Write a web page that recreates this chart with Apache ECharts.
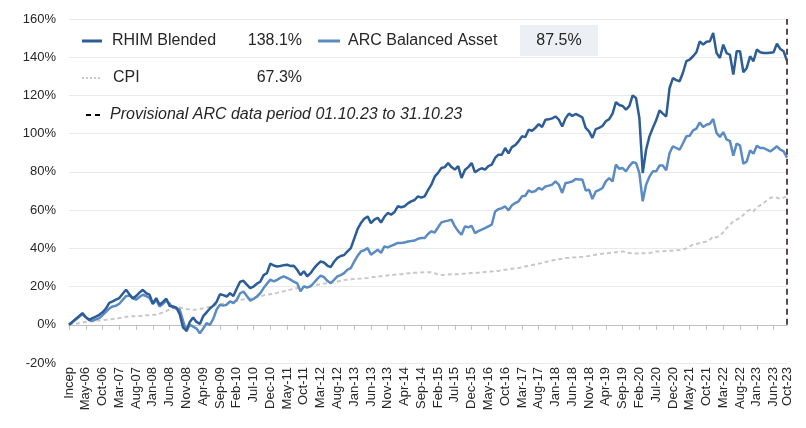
<!DOCTYPE html>
<html>
<head>
<meta charset="utf-8">
<script src="https://cdn.jsdelivr.net/npm/echarts/dist/echarts.min.js"></script>
<style>
    html, body { margin: 0; padding: 0; background: #fff; }
    #chart { width: 806px; height: 428px; }
</style>
</head>
<body>
<div id="chart"></div>
<script>
// 月份标签：Incep = Dec-05，逐月到 Oct-23
var monthNames = ['Jan', 'Feb', 'Mar', 'Apr', 'May', 'Jun', 'Jul', 'Aug', 'Sep', 'Oct', 'Nov', 'Dec'];
var categories = ['Incep'];
for (var y = 2006; y <= 2023; y++) {
    for (var m = 0; m < 12; m++) {
        if (y === 2023 && m > 9) break;
        categories.push(monthNames[m] + '-' + String(y).slice(2));
    }
}

var yTicks = [-20, 0, 20, 40, 60, 80, 100, 120, 140, 160];

// RHIM Blended (%)
var rhim = [
    0, 1.5, 3.0, 4.5, 6.1, 4.0, 2.6, 3.5, 4.3, 5.2,
    6.5, 8.5, 11.5, 12.3, 13.2, 14.0, 16.2, 18.3, 16.0, 13.8,
    15.0, 16.8, 18.3, 16.5, 15.8, 11.0, 14.0, 10.5, 12.0, 13.6,
    9.8, 9.6, 9.0, 5.5, -1.5, -3.0, 1.5, 3.8, 1.5, 0.4,
    4.5, 6.5, 8.5, 10.0, 12.0, 16.0, 15.5, 14.8, 16.5, 15.0,
    19.0, 22.5, 23.0, 21.0, 19.2, 20.0, 21.5, 22.5, 26.0, 27.0,
    32.0, 31.0, 30.5, 30.8, 31.2, 31.4, 30.8, 30.9, 28.8, 26.0,
    28.0, 25.4, 27.0, 29.5, 31.5, 33.1, 32.6, 31.0, 30.2, 33.0,
    35.0, 36.0, 36.5, 38.4, 40.1, 45.0, 50.0, 53.2, 55.5, 56.7,
    53.2, 55.0, 56.0, 53.5, 56.5, 58.5, 57.6, 59.0, 62.0, 61.5,
    62.0, 63.5, 64.6, 65.3, 67.2, 66.5, 67.2, 70.5, 73.3, 77.5,
    79.5, 82.0, 82.5, 84.7, 82.5, 81.2, 83.0, 76.8, 81.0, 82.5,
    84.7, 79.8, 81.0, 81.9, 81.2, 83.0, 83.8, 87.3, 89.0, 89.0,
    92.5, 89.7, 93.0, 94.0, 96.0, 98.6, 98.2, 102.1, 101.5, 103.0,
    105.0, 103.5, 107.3, 107.5, 108.0, 109.0, 107.3, 103.8, 108.0, 110.5,
    109.3, 110.3, 109.5, 108.5, 103.0, 101.2, 97.8, 102.4, 103.0, 104.0,
    106.5, 107.6, 110.5, 116.5, 115.0, 114.5, 112.6, 114.4, 120.0, 118.7,
    108.2, 79.4, 91.6, 98.6, 103.0, 107.0, 112.2, 110.5, 109.0, 123.9,
    129.1, 128.0, 127.4, 132.0, 137.9, 138.8, 140.5, 142.6, 148.3, 146.6,
    148.1, 148.3, 152.7, 142.2, 139.6, 146.6, 142.2, 141.3, 130.9, 143.1,
    143.1, 132.1, 134.4, 140.5, 137.9, 144.0, 142.6, 142.2, 142.2, 142.4,
    142.6, 147.1, 144.3, 143.1, 138.1
];

// ARC Balanced Asset (%)
var arc = [
    0, 1.3, 2.8, 4.2, 5.5, 4.0, 2.5, 2.0, 2.8, 3.5,
    5.0, 6.8, 8.5, 9.6, 10.0, 11.0, 13.0, 15.0, 15.3, 14.0,
    13.1, 14.5, 15.7, 15.0, 14.0, 11.0, 13.0, 9.6, 11.0, 12.6,
    11.0, 9.0, 8.5, 8.0, 2.0, -3.5, 0.0, -1.0, -2.0, -4.4,
    -2.0, 0.9, 0.0, 3.1, 8.0, 10.5, 10.0, 10.5, 12.2, 11.4,
    13.0, 16.5, 17.4, 15.0, 12.7, 13.5, 14.8, 16.5, 19.2, 21.5,
    23.6, 22.7, 23.5, 24.5, 25.3, 24.5, 23.6, 22.5, 21.8, 17.5,
    20.1, 19.5, 20.1, 22.0, 24.0, 25.7, 24.9, 23.0, 21.8, 23.5,
    25.3, 26.0, 27.0, 28.8, 29.7, 33.0, 36.0, 38.4, 39.0, 40.1,
    36.7, 38.0, 39.3, 37.6, 41.0, 40.5, 41.3, 42.0, 42.8, 42.8,
    43.0, 43.6, 43.8, 44.1, 45.0, 45.4, 45.4, 47.5, 48.9, 48.3,
    51.0, 53.6, 54.1, 54.5, 55.0, 51.5, 49.0, 47.1, 51.5, 51.0,
    51.8, 48.0, 49.0, 49.8, 50.6, 51.5, 52.4, 59.3, 60.5, 61.0,
    61.9, 59.9, 62.5, 63.7, 64.6, 67.2, 67.5, 70.3, 69.4, 70.0,
    71.6, 70.7, 72.4, 72.8, 73.3, 75.0, 73.3, 69.0, 74.2, 74.5,
    75.0, 76.3, 76.0, 76.0, 70.3, 70.7, 65.8, 69.8, 70.5, 71.6,
    75.0, 76.8, 75.0, 83.8, 81.6, 82.0, 80.3, 83.0, 85.0, 84.7,
    79.4, 64.6, 73.3, 77.5, 80.3, 80.3, 83.3, 83.3, 80.8, 89.9,
    93.4, 92.5, 91.6, 95.0, 98.6, 98.9, 101.7, 102.6, 105.9, 103.5,
    104.7, 105.2, 107.7, 100.4, 98.3, 100.8, 97.0, 96.1, 88.5, 94.8,
    93.8, 84.3, 85.5, 91.3, 89.5, 93.7, 92.5, 92.5, 91.6, 90.7,
    92.0, 93.4, 91.6, 90.7, 87.5
];

// CPI (%)
var cpi = [
    0, 0.2, 0.5, 0.8, 1.2, 1.5, 1.7, 1.8, 2.0, 2.3,
    2.5, 2.6, 2.8, 3.0, 3.2, 3.5, 3.8, 4.2, 4.4, 4.5,
    4.5, 4.6, 4.8, 5.0, 5.0, 5.2, 5.3, 5.8, 6.5, 7.2,
    8.0, 8.7, 9.0, 9.0, 8.8, 8.3, 8.0, 7.9, 8.0, 8.3,
    8.6, 9.0, 9.4, 9.9, 10.5, 10.8, 11.1, 11.4, 11.8, 12.1,
    12.5, 12.9, 13.3, 13.5, 13.8, 14.2, 14.5, 14.8, 15.4, 15.7,
    16.0, 16.3, 16.7, 17.2, 17.5, 18.0, 18.4, 18.8, 19.2, 19.6,
    20.0, 20.2, 20.5, 20.8, 21.0, 21.2, 21.6, 21.8, 22.0, 22.3,
    22.6, 23.0, 23.4, 23.6, 23.8, 24.0, 24.1, 24.2, 24.4, 24.5,
    24.8, 25.0, 25.2, 25.4, 25.6, 25.8, 26.0, 26.2, 26.4, 26.5,
    26.7, 26.9, 27.0, 27.2, 27.3, 27.4, 27.5, 27.5, 27.5, 27.0,
    26.2, 26.0, 26.2, 26.3, 26.4, 26.4, 26.5, 26.7, 26.8, 27.0,
    27.1, 27.2, 27.2, 27.4, 27.6, 27.8, 27.9, 28.0, 28.2, 28.5,
    28.8, 29.0, 29.3, 29.5, 29.7, 30.0, 30.5, 31.0, 31.3, 31.6,
    32.0, 32.4, 32.8, 33.2, 33.6, 34.0, 34.3, 34.6, 34.9, 35.0,
    35.2, 35.3, 35.5, 35.6, 35.8, 36.0, 36.3, 36.6, 36.9, 37.2,
    37.4, 37.6, 37.8, 38.0, 38.2, 38.4, 37.9, 37.6, 37.3, 37.3,
    37.3, 37.4, 37.5, 37.6, 37.9, 38.4, 38.4, 38.5, 38.6, 38.7,
    38.8, 39.0, 39.1, 39.3, 40.0, 41.0, 41.9, 42.3, 42.8, 43.2,
    43.6, 44.5, 46.2, 45.7, 46.5, 48.5, 50.6, 52.5, 54.1, 55.0,
    55.9, 57.5, 59.3, 60.2, 59.3, 61.5, 62.5, 63.7, 65.0, 66.3,
    66.8, 66.5, 65.8, 66.5, 67.3
];

var colorRhim = '#2d5d96';
var colorArc = '#5b8bc3';
var colorCpi = '#c8c8c8';
var fontFamily = "'Liberation Sans', Arial, sans-serif";
var lastIdx = categories.length - 1;

function lastValue(arr) {
    return arr[arr.length - 1].toFixed(1) + '%';
}

// 每 5 个月显示一个标签，最后一个月也显示
function showLabel(index) {
    return index % 5 === 0 || index === lastIdx;
}

var myChart = echarts.init(document.getElementById('chart'));
var option = {
    animation: false,
    grid: { left: 69, right: 19, top: 19, bottom: 65 },
    xAxis: [
        {
            type: 'category',
            data: categories,
            boundaryGap: false,
            axisLine: { show: false, onZero: false },
            axisTick: { show: false },
            axisLabel: {
                interval: showLabel,
                rotate: 90,
                margin: 4,
                color: '#262626',
                fontSize: 13,
                fontFamily: fontFamily
            },
            splitLine: { show: false }
        },
        {
            type: 'category',
            data: categories,
            boundaryGap: false,
            position: 'bottom',
            axisLine: { show: true, onZero: true, lineStyle: { color: '#bfbfbf', width: 1 } },
            axisTick: { show: true, interval: function (i) { return i % 5 === 0; }, length: 5, lineStyle: { color: '#bfbfbf' } },
            axisLabel: { show: false },
            splitLine: { show: false }
        }
    ],
    yAxis: {
        type: 'value',
        min: yTicks[0],
        max: yTicks[yTicks.length - 1],
        interval: 20,
        axisLine: { show: false },
        axisTick: { show: false },
        axisLabel: {
            formatter: '{value}%',
            color: '#262626',
            fontSize: 13,
            margin: 13,
            fontFamily: fontFamily
        },
        splitLine: { lineStyle: { color: '#e9e9e9', width: 1 } }
    },
    series: [
        {
            name: 'CPI',
            type: 'line',
            data: cpi,
            showSymbol: false,
            lineStyle: { color: colorCpi, width: 2, type: [4, 3] },
            emphasis: { disabled: true }
        },
        {
            name: 'ARC Balanced Asset',
            type: 'line',
            data: arc,
            showSymbol: false,
            lineStyle: { color: colorArc, width: 2.5 },
            emphasis: { disabled: true }
        },
        {
            name: 'RHIM Blended',
            type: 'line',
            data: rhim,
            showSymbol: false,
            lineStyle: { color: colorRhim, width: 2.5 },
            emphasis: { disabled: true },
            markLine: {
                silent: true,
                symbol: 'none',
                label: { show: false },
                lineStyle: { color: '#5a4b4b', width: 2, type: [6, 4] },
                data: [[{ coord: [categories[lastIdx], 0] }, { coord: [categories[lastIdx], 160] }]]
            }
        }
    ],
    graphic: [
        { type: 'line', shape: { x1: 82, y1: 41, x2: 102, y2: 41 }, style: { stroke: colorRhim, lineWidth: 3 } },
        { type: 'text', x: 112, y: 41, style: { text: 'RHIM Blended', font: '16px ' + fontFamily, fill: '#262626', verticalAlign: 'middle' } },
        { type: 'text', x: 302, y: 41, style: { text: lastValue(rhim), font: '16px ' + fontFamily, fill: '#262626', align: 'right', verticalAlign: 'middle' } },
        { type: 'line', shape: { x1: 318, y1: 41, x2: 340, y2: 41 }, style: { stroke: colorArc, lineWidth: 3 } },
        { type: 'text', x: 348, y: 41, style: { text: 'ARC Balanced Asset', font: '16px ' + fontFamily, fill: '#262626', verticalAlign: 'middle' } },
        { type: 'rect', shape: { x: 520, y: 25, width: 78, height: 31 }, style: { fill: '#eceff4' } },
        { type: 'text', x: 559, y: 41, style: { text: lastValue(arc), font: '16px ' + fontFamily, fill: '#262626', align: 'center', verticalAlign: 'middle' } },
        { type: 'line', shape: { x1: 82, y1: 78, x2: 100, y2: 78 }, style: { stroke: colorCpi, lineWidth: 2, lineDash: [2, 2] } },
        { type: 'text', x: 113, y: 78, style: { text: 'CPI', font: '16px ' + fontFamily, fill: '#262626', verticalAlign: 'middle' } },
        { type: 'text', x: 302, y: 78, style: { text: lastValue(cpi), font: '16px ' + fontFamily, fill: '#262626', align: 'right', verticalAlign: 'middle' } },
        { type: 'line', shape: { x1: 86, y1: 115, x2: 104, y2: 115 }, style: { stroke: '#000', lineWidth: 2, lineDash: [5, 4] } },
        { type: 'text', x: 110, y: 115, style: { text: 'Provisional ARC data period 01.10.23 to 31.10.23', font: 'italic 16px ' + fontFamily, fill: '#262626', verticalAlign: 'middle' } }
    ]
};
myChart.setOption(option);
</script>
</body>
</html>
